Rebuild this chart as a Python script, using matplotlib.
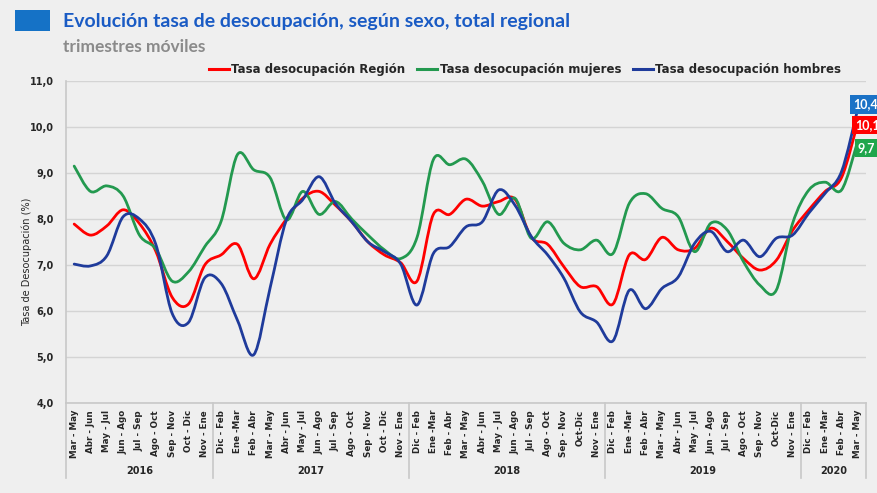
import numpy as np
import matplotlib
matplotlib.use("Agg")
import matplotlib.pyplot as plt
from matplotlib.path import Path
from matplotlib.patches import PathPatch, Rectangle
from matplotlib.lines import Line2D
import matplotlib.transforms as mtransforms

# ========================
# DATA
# ========================
YEARS = ["2016", "2017", "2018", "2019", "2020"]
YEAR_SIZES = [9, 12, 12, 12, 4]

LABELS = [
    "Mar - May", "Abr - Jun", "May - Jul", "Jun - Ago", "Jul - Sep", "Ago - Oct", "Sep - Nov", "Oct - Dic", "Nov - Ene",
    "Dic - Feb", "Ene -Mar", "Feb - Abr", "Mar - May", "Abr - Jun", "May - Jul", "Jun - Ago", "Jul - Sep", "Ago - Oct", "Sep - Nov", "Oct - Dic", "Nov - Ene",
    "Dic - Feb", "Ene -Mar", "Feb - Abr", "Mar - May", "Abr - Jun", "May - Jul", "Jun - Ago", "Jul - Sep", "Ago - Oct", "Sep - Nov", "Oct-Dic", "Nov - Ene",
    "Dic - Feb", "Ene -Mar", "Feb - Abr", "Mar - May", "Abr - Jun", "May - Jul", "Jun - Ago", "Jul - Sep", "Ago - Oct", "Sep - Nov", "Oct-Dic", "Nov - Ene",
    "Dic - Feb", "Ene -Mar", "Feb - Abr", "Mar - May",
]

region = [
    7.89, 7.65, 7.85, 8.20, 7.90, 7.30, 6.30, 6.15, 7.00,
    7.22, 7.45, 6.70, 7.45, 8.00, 8.45, 8.60, 8.30, 7.94, 7.50, 7.22, 7.05,
    6.65, 8.10, 8.10, 8.43, 8.28, 8.38, 8.43, 7.60, 7.45, 6.96, 6.53, 6.53,
    6.15, 7.22, 7.12, 7.60, 7.33, 7.36, 7.80, 7.51, 7.14, 6.89, 7.10, 7.75,
    8.20, 8.60, 8.90, 10.10,
]
mujeres = [
    9.15, 8.60, 8.72, 8.50, 7.65, 7.35, 6.65, 6.85, 7.40,
    7.95, 9.40, 9.07, 8.90, 7.98, 8.60, 8.10, 8.38, 8.00, 7.65, 7.33, 7.14,
    7.60, 9.29, 9.18, 9.30, 8.82, 8.10, 8.45, 7.58, 7.94, 7.47, 7.33, 7.54,
    7.25, 8.34, 8.55, 8.23, 8.05, 7.29, 7.91, 7.76, 7.07, 6.56, 6.45, 7.90,
    8.63, 8.80, 8.63, 9.70,
]
hombres = [
    7.02, 6.98, 7.20, 8.05, 8.00, 7.45, 5.95, 5.75, 6.72,
    6.60, 5.80, 5.05, 6.50, 7.98, 8.42, 8.92, 8.34, 7.94, 7.50, 7.29, 7.02,
    6.13, 7.25, 7.40, 7.83, 7.94, 8.63, 8.30, 7.62, 7.22, 6.71, 5.98, 5.76,
    5.35, 6.45, 6.05, 6.49, 6.74, 7.47, 7.73, 7.29, 7.54, 7.18, 7.58, 7.65,
    8.13, 8.56, 9.03, 10.40,
]

SERIES = [
    ("Tasa desocupación Región", region, "#ff0000", "#ff0000", "10,1"),
    ("Tasa desocupación mujeres", mujeres, "#23994f", "#1fa64c", "9,7"),
    ("Tasa desocupación hombres", hombres, "#1f3b9b", "#1b72c6", "10,4"),
]

BG = "#efefef"
GRID = "#d4d4d4"
TXT = "#262626"


def smooth_path(x, y):
    # Excel-like smoothed line: cubic bezier through every data point
    n = len(x)
    verts = [(x[0], y[0])]
    codes = [Path.MOVETO]
    for i in range(n - 1):
        xa, ya = (x[i - 1], y[i - 1]) if i > 0 else (x[i], y[i])
        xb, yb = (x[i + 2], y[i + 2]) if i + 2 < n else (x[i + 1], y[i + 1])
        c1 = (x[i] + (x[i + 1] - xa) / 6, y[i] + (y[i + 1] - ya) / 6)
        c2 = (x[i + 1] - (xb - x[i]) / 6, y[i + 1] - (yb - y[i]) / 6)
        verts += [c1, c2, (x[i + 1], y[i + 1])]
        codes += [Path.CURVE4] * 3
    return Path(verts, codes)


fig = plt.figure(figsize=(8.78, 4.93), dpi=100, facecolor=BG)
ax = fig.add_axes([66 / 878, 1 - 403 / 493, 800 / 878, 322 / 493])
ax.set_facecolor(BG)

x = np.arange(len(LABELS))
ax.set_xlim(-0.5, len(LABELS) - 0.5)
ax.set_ylim(4, 11)

for name, vals, col, boxcol, lab in SERIES:
    patch = PathPatch(smooth_path(x, vals), facecolor="none", edgecolor=col,
                      lw=2.0, capstyle="round", joinstyle="round", zorder=3)
    ax.add_patch(patch)

# end labels (kept inside the figure edge)
offsets = {"10,4": (-3.5, 3), "10,1": (-2, -2), "9,7": (0, -5)}
for name, vals, col, boxcol, lab in SERIES:
    ax.annotate(lab, xy=(x[-1], vals[-1]), xytext=offsets[lab], textcoords="offset points",
                ha="left", va="center", color="white", fontsize=9, fontweight="bold",
                family="Lato",
                bbox=dict(boxstyle="square,pad=0.25", fc=boxcol, ec="none"),
                annotation_clip=False, zorder=5)

# grid & spines
ax.set_yticks(np.arange(4, 12, 1))
ax.set_yticklabels([f"{v:.1f}".replace(".", ",") for v in np.arange(4, 12, 1)],
                   fontsize=7, fontweight="bold", color=TXT)
ax.yaxis.grid(True, color=GRID, lw=1.0)
ax.set_axisbelow(True)
ax.tick_params(axis="y", length=0, pad=9)
for s in ["top", "right"]:
    ax.spines[s].set_visible(False)
ax.spines["left"].set_color("#c8c8c8")
ax.spines["bottom"].set_color("#c8c8c8")
ax.spines["left"].set_linewidth(1.2)
ax.spines["bottom"].set_linewidth(1.2)

ax.set_xticks(x)
ax.set_xticklabels(LABELS, rotation=90, fontsize=6.3, fontweight="bold", color=TXT)
ax.tick_params(axis="x", length=0, pad=5)

# year groups
trans = mtransforms.blended_transform_factory(ax.transData, ax.transAxes)
start = 0
bounds = [-0.5]
for yr, size in zip(YEARS, YEAR_SIZES):
    mid = start + (size - 1) / 2
    ax.text(mid, -0.212, yr, transform=trans, ha="center", va="center",
            fontsize=7, fontweight="bold", color=TXT)
    start += size
    bounds.append(start - 0.5)
for b in bounds:
    ax.plot([b, b], [0, -0.233], transform=trans, color="#c8c8c8", lw=1.2, clip_on=False)

fig.text(27 / 878, 1 - 262 / 493, "Tasa de Desocupación (%)", rotation=90,
         ha="center", va="center", fontsize=7, color=TXT)

# title block
fig.patches.append(Rectangle((15 / 878, 1 - 31 / 493), 35 / 878, 21 / 493,
                             transform=fig.transFigure, fc="#1572c6", ec="none"))
fig.text(63 / 878, 1 - 21 / 493, "Evolución tasa de desocupación, según sexo, total regional",
         ha="left", va="center", fontsize=14, fontweight="bold", color="#1a5bc4", family="Lato")
fig.text(63 / 878, 1 - 47 / 493, "trimestres móviles", ha="left", va="center",
         fontsize=12.5, fontweight="bold", color="#8a8a8a", family="Lato")

handles = [Line2D([], [], color=c, lw=2.2) for _, _, c, _, _ in SERIES]
fig.legend(handles, [s[0] for s in SERIES], loc="center", bbox_to_anchor=(525 / 878, 1 - 70 / 493),
           ncol=3, frameon=False, handlelength=1.7, handletextpad=0.2, columnspacing=1.0,
           prop=dict(size=8.5, weight="bold"), labelcolor=TXT)

fig.savefig("out.png", dpi=100, facecolor=BG)
